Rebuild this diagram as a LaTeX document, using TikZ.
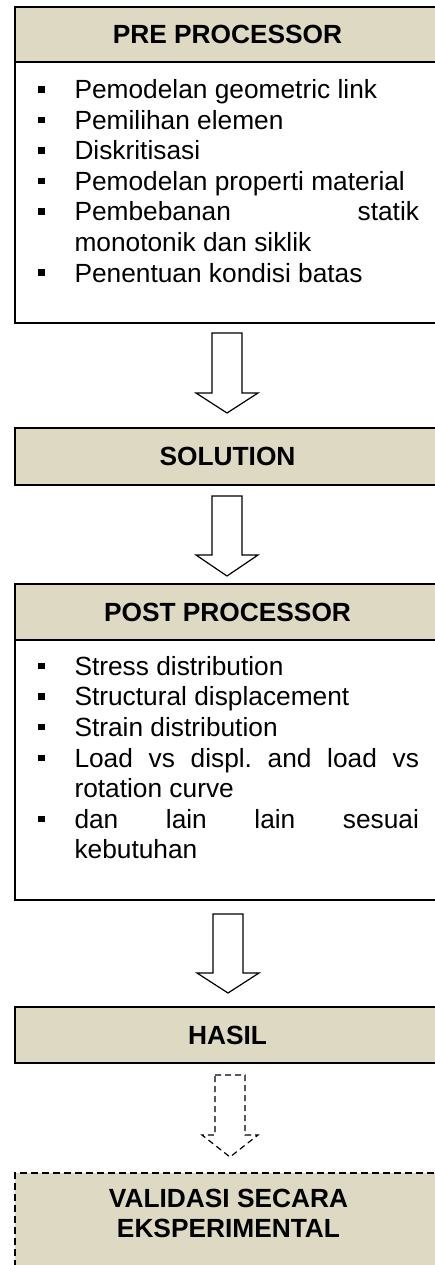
\documentclass[tikz,border=0pt]{standalone}
\usepackage{fontspec}
\setmainfont{Liberation Sans}
\definecolor{tanfill}{RGB}{221,217,195}
\frenchspacing
\newcommand\bul{\makebox[36.5pt][l]{\raisebox{6pt}{\rule{6.5pt}{6.5pt}}}}
\newcommand\jline[1]{\makebox[344.5pt][s]{#1}}
% block arrow: style, cx, top, shaft bottom, tip, half shaft, half head
\newcommand\blkarrow[7]{\draw[#1] ({#2-#6},#3) -- ({#2+#6},#3) -- ({#2+#6},#4) -- ({#2+#7},#4) -- (#2,#5) -- ({#2-#7},#4) -- ({#2-#6},#4) -- cycle;}
\begin{document}
\begin{tikzpicture}[x=1pt,y=-1pt,
  font=\fontsize{26.3}{30.5}\selectfont,
  box/.style={draw, line width=1.8pt, inner sep=0pt, outer sep=0pt, anchor=north west, minimum width=425pt},
  headbox/.style={box, fill=tanfill, font=\fontsize{26.3}{30.5}\selectfont\bfseries},
  bodybox/.style={box, fill=white},
  itemline/.style={anchor=base west, inner sep=0pt, outer sep=0pt},
  titleline/.style={anchor=base, inner sep=0pt, outer sep=0pt, font=\fontsize{26.3}{30.5}\selectfont\bfseries},
  barrow/.style={draw, line width=1.2pt, fill=white, line join=miter},
  dbarrow/.style={barrow, dash pattern=on 6pt off 4pt},
]
\useasboundingbox (0,0) rectangle (435,1265);
\clip (0,0) rectangle (435,1265);
\fill[white] (0,0) rectangle (435,1265);

% PRE PROCESSOR
\node[bodybox, minimum height=261pt] (preB) at (15,62) {};
\node[headbox, minimum height=55pt] (preH) at (15,7) {PRE PROCESSOR};
\node[itemline] (p1) at (38,99)    {\bul Pemodelan geometric link};
\node[itemline] (p2) at (38,129.5) {\bul Pemilihan elemen};
\node[itemline] (p3) at (38,160)   {\bul Diskritisasi};
\node[itemline] (p4) at (38,190.5) {\bul Pemodelan properti material};
\node[itemline] (p5) at (38,221)   {\bul\jline{Pembebanan statik}};
\node[itemline] (p6) at (74.5,251.5) {monotonik dan siklik};
\node[itemline] (p7) at (38,282)   {\bul Penentuan kondisi batas};

% arrow 1
\blkarrow{barrow}{227}{333}{393}{413}{15}{31}

% SOLUTION
\node[headbox, minimum height=57pt] (sol) at (15,428) {SOLUTION};

% arrow 2
\blkarrow{barrow}{227}{496}{555}{576}{15}{31}

% POST PROCESSOR
\node[bodybox, minimum height=260pt] (postB) at (15,640) {};
\node[headbox, minimum height=56pt] (postH) at (15,584) {POST PROCESSOR};
\node[itemline] (q1) at (38,675)   {\bul Stress distribution};
\node[itemline] (q2) at (38,705.7) {\bul Structural displacement};
\node[itemline] (q3) at (38,736.4) {\bul Strain distribution};
\node[itemline] (q4) at (38,767)   {\bul\jline{Load vs displ. and load vs}};
\node[itemline] (q5) at (74.5,797.6) {rotation curve};
\node[itemline] (q6) at (38,828.2) {\bul\jline{dan lain lain sesuai}};
\node[itemline] (q7) at (74.5,858.7) {kebutuhan};

% arrow 3
\blkarrow{barrow}{228}{914}{973}{993}{15}{31}

% HASIL
\node[headbox, minimum height=56pt] (hasil) at (15,1007) {HASIL};

% dashed arrow
\blkarrow{dbarrow}{230}{1075}{1135}{1157}{15}{28}

% VALIDASI
\node[box, fill=tanfill, dash pattern=on 7pt off 4pt, minimum height=130pt] (valid) at (15,1173) {};
\node[titleline] (v1) at (228.5,1207) {VALIDASI SECARA};
\node[titleline] (v2) at (228.5,1237) {EKSPERIMENTAL};
\end{tikzpicture}
\end{document}
